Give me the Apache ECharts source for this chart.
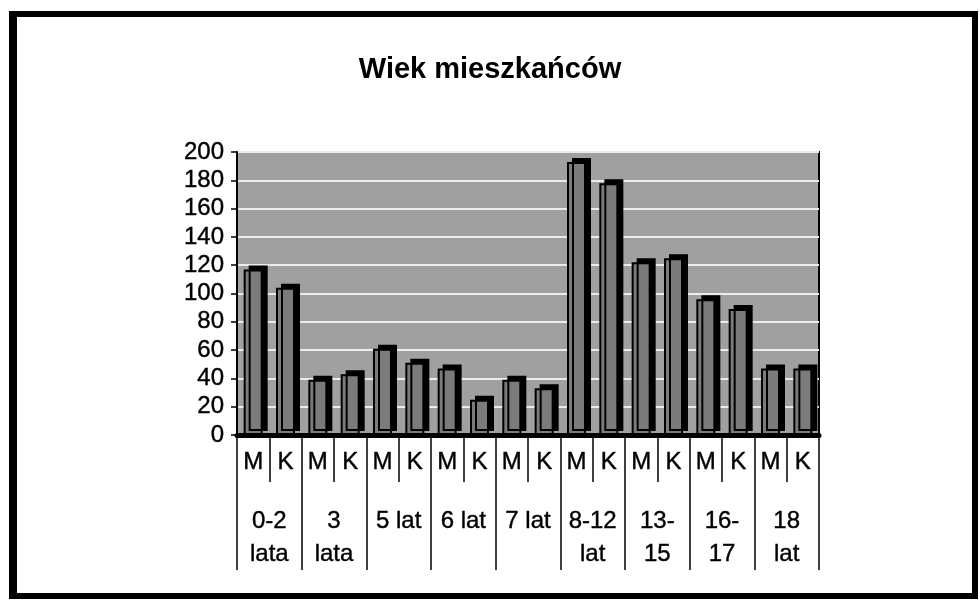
<!DOCTYPE html>
<html>
<head>
<meta charset="utf-8">
<script src="https://cdn.jsdelivr.net/npm/echarts@6/dist/echarts.min.js"></script>
<style>
html,body{margin:0;padding:0;background:#fff;}
#chart{width:980px;height:601px;}
</style>
</head>
<body>
<div id="chart"></div>
<script>
const titleText = 'Wiek mieszkańców';
const groups = ['0-2\nlata', '3\nlata', '5 lat', '6 lat', '7 lat', '8-12\nlat', '13-\n15', '16-\n17', '18\nlat'];
const sexes = ['M', 'K'];
const men =   [117, 39, 61, 47, 39, 193, 122, 96, 47];
const women = [104, 43, 51, 25, 33, 178, 125, 89, 47];
const yTicks = { min: 0, max: 200, interval: 20 };

const categories = [];
const values = [];
groups.forEach(function (g, i) {
  categories.push(sexes[0]); values.push(men[i]);
  categories.push(sexes[1]); values.push(women[i]);
});

const FONT = 'Liberation Sans, Arial, sans-serif';
const labelStyle = { fontFamily: FONT, fontSize: 24, color: '#000', textBorderColor: '#000', textBorderWidth: 0.4 };
const chart = echarts.init(document.getElementById('chart'));
chart.setOption({
  backgroundColor: '#ffffff',
  animation: false,
  title: {
    text: titleText,
    left: 'center',
    top: 50,
    textStyle: { fontFamily: FONT, fontSize: 29, fontWeight: 'bold', color: '#000' }
  },
  graphic: [{
    type: 'rect',
    shape: { x: 12, y: 14, width: 963, height: 582 },
    style: { fill: 'none', stroke: '#000', lineWidth: 6 },
    silent: true,
    z: 100
  }, {
    type: 'rect',
    shape: { x: 9, y: 14, width: 8, height: 582 },
    style: { fill: '#000' },
    silent: true,
    z: 100
  }],
  grid: {
    left: 237, right: 161, top: 152, bottom: 166,
    show: true,
    backgroundColor: '#a0a0a0',
    borderColor: '#000',
    borderWidth: 2
  },
  xAxis: [{
    type: 'category',
    data: categories,
    position: 'bottom',
    axisLine: { show: true, lineStyle: { color: '#000', width: 5 } },
    axisTick: { show: true, interval: 0, length: 47, lineStyle: { color: '#000', width: 1.5 } },
    axisLabel: Object.assign({ interval: 0, margin: 15 }, labelStyle),
    splitLine: { show: false }
  }, {
    type: 'category',
    data: groups,
    position: 'bottom',
    axisLine: { show: false },
    axisTick: { show: true, interval: 0, length: 135, lineStyle: { color: '#000', width: 1.5 } },
    axisLabel: Object.assign({ interval: 0, margin: 70, lineHeight: 33 }, labelStyle),
    splitLine: { show: false }
  }],
  yAxis: {
    type: 'value',
    min: yTicks.min, max: yTicks.max, interval: yTicks.interval,
    axisLine: { show: true, lineStyle: { color: '#000', width: 2 } },
    axisTick: { show: true, length: 6, lineStyle: { color: '#000', width: 1.5 } },
    axisLabel: Object.assign({ margin: 13 }, labelStyle),
    splitLine: { show: true, lineStyle: { color: '#ececec', width: 2 } }
  },
  series: [{
    type: 'bar',
    xAxisIndex: 0,
    data: values,
    barWidth: 19,
    itemStyle: {
      color: '#7b7b7b',
      borderColor: '#000',
      borderWidth: 2,
      shadowColor: '#000',
      shadowOffsetX: 5,
      shadowOffsetY: -4,
      shadowBlur: 0
    }
  }]
});
</script>
</body>
</html>
